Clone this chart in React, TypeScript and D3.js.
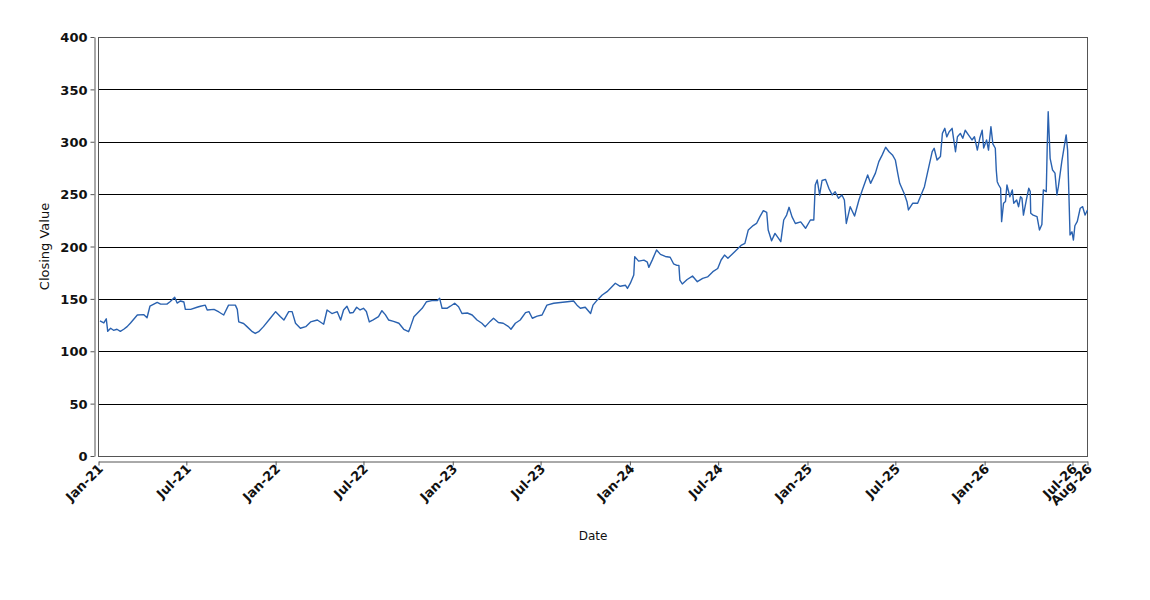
import * as d3 from 'd3';
import { useEffect, useRef } from 'react';

// closing values, one point per visible turn of the line
const dates = [
  '2021-01-04', '2021-01-12', '2021-01-17', '2021-01-20', '2021-01-26', '2021-02-01', '2021-02-08', '2021-02-15',
  '2021-02-22', '2021-03-01', '2021-03-08', '2021-03-22', '2021-04-04', '2021-04-11', '2021-04-17', '2021-05-02',
  '2021-05-09', '2021-05-22', '2021-05-29', '2021-06-07', '2021-06-12', '2021-06-19', '2021-06-26', '2021-06-29',
  '2021-07-10', '2021-07-23', '2021-07-30', '2021-08-09', '2021-08-13', '2021-08-27', '2021-09-06', '2021-09-16',
  '2021-09-26', '2021-10-10', '2021-10-14', '2021-10-17', '2021-10-27', '2021-11-03', '2021-11-14', '2021-11-20',
  '2021-11-27', '2021-12-07', '2021-12-21', '2022-01-01', '2022-01-11', '2022-01-18', '2022-01-28', '2022-02-04',
  '2022-02-11', '2022-02-21', '2022-03-04', '2022-03-14', '2022-03-28', '2022-04-10', '2022-04-17', '2022-04-27',
  '2022-05-08', '2022-05-15', '2022-05-21', '2022-05-28', '2022-06-03', '2022-06-10', '2022-06-17', '2022-06-24',
  '2022-07-01', '2022-07-07', '2022-07-13', '2022-07-21', '2022-08-01', '2022-08-08', '2022-08-15', '2022-08-22',
  '2022-09-01', '2022-09-12', '2022-09-22', '2022-10-02', '2022-10-06', '2022-10-13', '2022-10-23', '2022-10-30',
  '2022-11-08', '2022-11-19', '2022-11-30', '2022-12-05', '2022-12-10', '2022-12-20', '2022-12-27', '2023-01-05',
  '2023-01-13', '2023-01-20', '2023-01-31', '2023-02-10', '2023-02-20', '2023-03-02', '2023-03-09', '2023-03-19',
  '2023-03-26', '2023-04-05', '2023-04-15', '2023-04-26', '2023-05-01', '2023-05-10', '2023-05-20', '2023-05-31',
  '2023-06-07', '2023-06-14', '2023-06-24', '2023-07-04', '2023-07-14', '2023-07-28', '2023-08-11', '2023-08-25',
  '2023-09-07', '2023-09-14', '2023-09-21', '2023-10-01', '2023-10-12', '2023-10-17', '2023-10-26', '2023-11-05',
  '2023-11-15', '2023-11-25', '2023-12-02', '2023-12-12', '2023-12-23', '2023-12-27', '2024-01-02', '2024-01-09',
  '2024-01-11', '2024-01-19', '2024-01-30', '2024-02-06', '2024-02-09', '2024-02-16', '2024-02-25', '2024-03-04',
  '2024-03-14', '2024-03-24', '2024-03-31', '2024-04-07', '2024-04-11', '2024-04-13', '2024-04-18', '2024-04-28',
  '2024-05-09', '2024-05-19', '2024-05-30', '2024-06-09', '2024-06-20', '2024-06-30', '2024-07-07', '2024-07-14',
  '2024-07-21', '2024-07-28', '2024-08-04', '2024-08-18', '2024-08-25', '2024-09-01', '2024-09-11', '2024-09-18',
  '2024-09-25', '2024-10-02', '2024-10-09', '2024-10-12', '2024-10-19', '2024-10-26', '2024-11-02', '2024-11-07',
  '2024-11-13', '2024-11-19', '2024-11-24', '2024-11-30', '2024-12-07', '2024-12-18', '2024-12-28', '2025-01-07',
  '2025-01-14', '2025-01-17', '2025-01-21', '2025-01-26', '2025-01-31', '2025-02-07', '2025-02-14', '2025-02-21',
  '2025-02-27', '2025-03-06', '2025-03-13', '2025-03-18', '2025-03-22', '2025-03-30', '2025-04-08', '2025-04-17',
  '2025-04-24', '2025-05-05', '2025-05-11', '2025-05-21', '2025-05-28', '2025-06-04', '2025-06-11', '2025-06-18',
  '2025-06-25', '2025-07-01', '2025-07-06', '2025-07-10', '2025-07-19', '2025-07-25', '2025-07-28', '2025-08-06',
  '2025-08-16', '2025-08-23', '2025-08-30', '2025-09-05', '2025-09-15', '2025-09-19', '2025-09-25', '2025-10-02',
  '2025-10-06', '2025-10-11', '2025-10-15', '2025-10-20', '2025-10-26', '2025-10-29', '2025-11-02', '2025-11-06',
  '2025-11-12', '2025-11-17', '2025-11-22', '2025-11-29', '2025-12-06', '2025-12-11', '2025-12-17', '2025-12-22',
  '2025-12-27', '2025-12-30', '2026-01-05', '2026-01-09', '2026-01-14', '2026-01-18', '2026-01-23', '2026-01-25',
  '2026-01-27', '2026-01-30', '2026-02-03', '2026-02-05', '2026-02-09', '2026-02-13', '2026-02-16', '2026-02-22',
  '2026-02-27', '2026-03-02', '2026-03-08', '2026-03-12', '2026-03-16', '2026-03-19', '2026-03-22', '2026-03-28',
  '2026-04-02', '2026-04-05', '2026-04-06', '2026-04-11', '2026-04-19', '2026-04-24', '2026-04-29', '2026-05-02',
  '2026-05-08', '2026-05-10', '2026-05-12', '2026-05-16', '2026-05-21', '2026-05-26', '2026-05-30', '2026-06-02',
  '2026-06-09', '2026-06-18', '2026-06-21', '2026-06-24', '2026-06-26', '2026-06-30', '2026-07-03', '2026-07-06',
  '2026-07-11', '2026-07-17', '2026-07-22', '2026-07-27', '2026-08-01',
];

const closes = [
  129, 127, 131, 119, 122, 120, 121, 119,
  121, 123.5, 127, 134.6, 135, 132, 143, 146.7,
  145, 145, 147.5, 151.5, 146, 148, 147, 140,
  140, 142, 143, 144, 139.4, 140, 137.5, 134.6,
  144, 144, 140, 128, 126.5, 123.5, 118.7, 117,
  118.7, 123.5, 131.5, 137.8, 133, 129.8, 137.8, 137.8,
  126.7, 122, 123.5, 128, 129.8, 125.8, 139.4, 136,
  137.8, 129.8, 139.4, 143, 136.5, 137, 142, 139.4,
  141, 138, 128, 130, 133, 138.7, 135, 129.8,
  128.5, 126.7, 121, 118.7, 123.5, 133, 137.8, 141,
  147.3, 148.3, 148.3, 150.5, 141, 141, 143, 145.8,
  142.5, 136, 136.5, 134.6, 129.8, 126.7, 123.5, 128.5,
  131.5, 127.5, 126.7, 123.5, 121, 126.7, 129.8, 136.8,
  137.8, 131.5, 133.5, 134.6, 144, 145.8, 146.5, 147.3,
  148, 144, 141, 142, 136, 144, 149, 153.7,
  156.9, 161.6, 164.9, 162, 163, 160, 165, 172.8,
  190.3, 186, 187, 185, 180.1, 187, 196.7, 192.5,
  190.5, 189.7, 183.5, 182, 182, 168, 164.2, 168.5,
  171.8, 166.4, 169.5, 171, 176, 179, 187.1, 191.8,
  188.7, 191.8, 195, 201.4, 203, 215.8, 220, 222,
  228.5, 234.2, 232.5, 215.8, 205.5, 212.5, 208, 204.6,
  225.3, 230, 237.4, 228.5, 222, 223.5, 217.4, 225.3,
  225.3, 258.7, 263.5, 249.2, 263, 264.1, 255.5, 249.2,
  252.3, 246, 249.2, 244.4, 222, 238, 229.1, 244.4,
  254, 268.3, 260.3, 270, 281, 287.5, 294.7, 290.5,
  287.4, 282.6, 269.9, 260.3, 250.8, 242.8, 234.9, 241.3,
  241.3, 249.2, 257.1, 269.9, 290.5, 293.8, 282.6, 286,
  308, 312.8, 304.7, 309.6, 312.8, 303, 290.5, 304.8,
  308, 303.3, 311, 306.4, 301.7, 304.8, 292, 303.3,
  311, 294, 301.7, 292, 314.4, 298, 293.8, 273,
  261.9, 258.7, 255.6, 223.7, 241.3, 243, 258.7, 247.5,
  254, 241.3, 244.4, 238, 247.6, 246, 230, 244.4,
  255.6, 252.4, 231.7, 230, 228.5, 215.8, 221, 254,
  252.3, 295.3, 328.7, 284.2, 273, 270, 249.2, 257.1,
  281, 306.5, 292, 244.4, 211, 214, 206.2, 219.8,
  224, 236.5, 238, 230, 234.9,
];

const yTicks = [0, 50, 100, 150, 200, 250, 300, 350, 400];
const xTicks = [
  '2021-01-01', '2021-07-01', '2022-01-01', '2022-07-01', '2023-01-01', '2023-07-01',
  '2024-01-01', '2024-07-01', '2025-01-01', '2025-07-01', '2026-01-01', '2026-07-01', '2026-08-01',
];

const width = 1150;
const height = 600;
const plotLeft = 98.5;
const plotRight = 1087.5;
const plotTop = 37;
const plotBottom = 456;
const font = '"DejaVu Sans", Verdana, sans-serif';

export default function App() {
  const ref = useRef<SVGSVGElement>(null);

  useEffect(() => {
    if (!ref.current) return;
    const svg = d3.select(ref.current);
    svg.selectAll('*').remove();

    const parse = d3.timeParse('%Y-%m-%d');
    const data = dates.map((d, i) => ({ date: parse(d) as Date, value: closes[i] }));

    const x = d3.scaleTime()
      .domain([parse('2021-01-01') as Date, parse('2026-08-01') as Date])
      .range([plotLeft, plotRight]);
    const y = d3.scaleLinear().domain([0, 400]).range([plotBottom, plotTop]);

    svg.append('rect')
      .attr('width', width).attr('height', height).attr('fill', '#fff');

    // gridlines
    svg.append('g')
      .selectAll('line')
      .data(yTicks)
      .join('line')
      .attr('x1', plotLeft).attr('x2', plotRight)
      .attr('y1', (d) => Math.round(y(d)) + 0.5).attr('y2', (d) => Math.round(y(d)) + 0.5)
      .attr('stroke', '#000').attr('stroke-width', 1);

    // plot outline
    svg.append('rect')
      .attr('x', plotLeft).attr('y', plotTop + 0.5)
      .attr('width', plotRight - plotLeft).attr('height', plotBottom - plotTop)
      .attr('fill', 'none').attr('stroke', '#555').attr('stroke-width', 1);

    // y axis, offset from the plot
    const yAxis = svg.append('g')
      .attr('transform', 'translate(94.5,0)')
      .call(d3.axisLeft(y).tickValues(yTicks).tickSize(4).tickSizeOuter(0).tickPadding(3)
        .tickFormat((d) => String(d)));
    yAxis.select('.domain').attr('stroke', '#555');
    yAxis.selectAll('.tick line').attr('stroke', '#555');
    yAxis.selectAll('.tick text')
      .attr('font-family', font).attr('font-size', 13).attr('font-weight', 'bold')
      .attr('fill', '#111').attr('dy', '0.36em');

    // x axis, offset below the plot
    const xAxis = svg.append('g')
      .attr('transform', 'translate(0,461.5)')
      .call(d3.axisBottom(x).tickValues(xTicks.map((d) => parse(d) as Date)).tickSize(4).tickSizeOuter(0)
        .tickFormat((d) => d3.timeFormat('%b-%y')(d as Date)));
    xAxis.select('.domain').attr('stroke', '#555');
    xAxis.selectAll('.tick line').attr('stroke', '#555');
    xAxis.selectAll('.tick text')
      .attr('font-family', font).attr('font-size', 13).attr('font-weight', 'bold')
      .attr('fill', '#111')
      .attr('text-anchor', 'end')
      .attr('dy', null)
      .attr('y', 0)
      .attr('transform', 'translate(5,8) rotate(-45)');

    // the line
    const line = d3.line<{ date: Date; value: number }>()
      .x((d) => x(d.date))
      .y((d) => y(d.value));
    svg.append('path')
      .datum(data)
      .attr('d', line)
      .attr('fill', 'none')
      .attr('stroke', '#2a62b0')
      .attr('stroke-width', 1.4)
      .attr('stroke-linejoin', 'round');

    // axis titles
    svg.append('text')
      .text('Closing Value')
      .attr('transform', `translate(49,${(plotTop + plotBottom) / 2}) rotate(-90)`)
      .attr('text-anchor', 'middle')
      .attr('font-family', font).attr('font-size', 13).attr('fill', '#111');
    svg.append('text')
      .text('Date')
      .attr('x', (plotLeft + plotRight) / 2).attr('y', 540)
      .attr('text-anchor', 'middle')
      .attr('font-family', font).attr('font-size', 12).attr('fill', '#111');
  }, []);

  return (
    <svg ref={ref} width={width} height={height}
      style={{ position: 'absolute', left: 0, top: 0, display: 'block' }} />
  );
}
